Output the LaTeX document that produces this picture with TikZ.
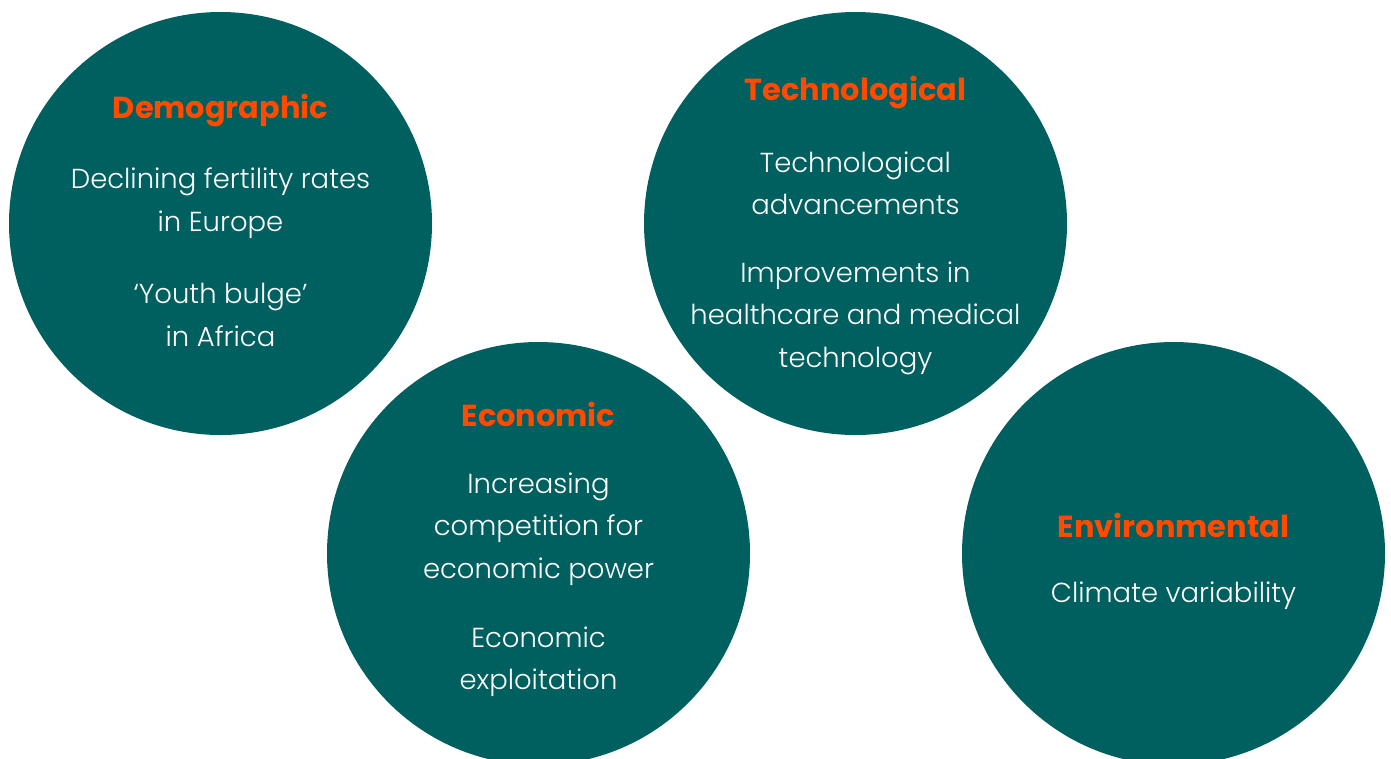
\documentclass[tikz,border=0pt]{standalone}
\usepackage{fontspec}
\setmainfont{Poppins}[UprightFont=* Light, BoldFont=* Bold]
\definecolor{teal}{HTML}{005F5F}
\definecolor{accent}{HTML}{FF4A00}
\tikzset{
  blob/.style={circle,fill=teal,inner sep=0,minimum size=317.25pt},
  head/.style={text=accent,font=\fontsize{22.8}{28}\selectfont\bfseries,inner sep=0},
  txt/.style={text=white,align=center,inner sep=0,font=\fontsize{20.6}{31.9}\selectfont}
}

\begin{document}
\begin{tikzpicture}[x=0.75pt,y=-0.75pt]
    \useasboundingbox (0,0) rectangle (1391,758);

    \node[blob] (demo) at (220.5,223.5) {};
    \node[blob] (tech) at (855.5,223.5) {};
    \node[blob] (econ) at (538.5,553.5) {};
    \node[blob] (env) at (1173.5,553.5) {};

    \node[head] (demoH) at (220.5,110) {Demographic};
    \node[txt] (demo1) at (220.5,203) {Declining fertility rates\\in Europe};
    \node[txt] (demo2) at (220.5,315) {‘Youth bulge’\\in Africa};

    \node[head] (techH) at (855.5,92) {Technological};
    \node[txt] (tech1) at (855.5,183.5) {Technological\\advancements};
    \node[txt] (tech2) at (855.5,318) {Improvements in\\healthcare and medical\\technology};

    \node[head] (econH) at (538.5,414) {Economic};
    \node[txt] (econ1) at (538.5,529) {Increasing\\competition for\\economic power};
    \node[txt] (econ2) at (538.5,661.5) {Economic\\exploitation};

    \node[head] (envH) at (1173.5,525) {Environmental};
    \node[txt] (env1) at (1173.5,596) {Climate variability};
  \end{tikzpicture}
\end{document}
